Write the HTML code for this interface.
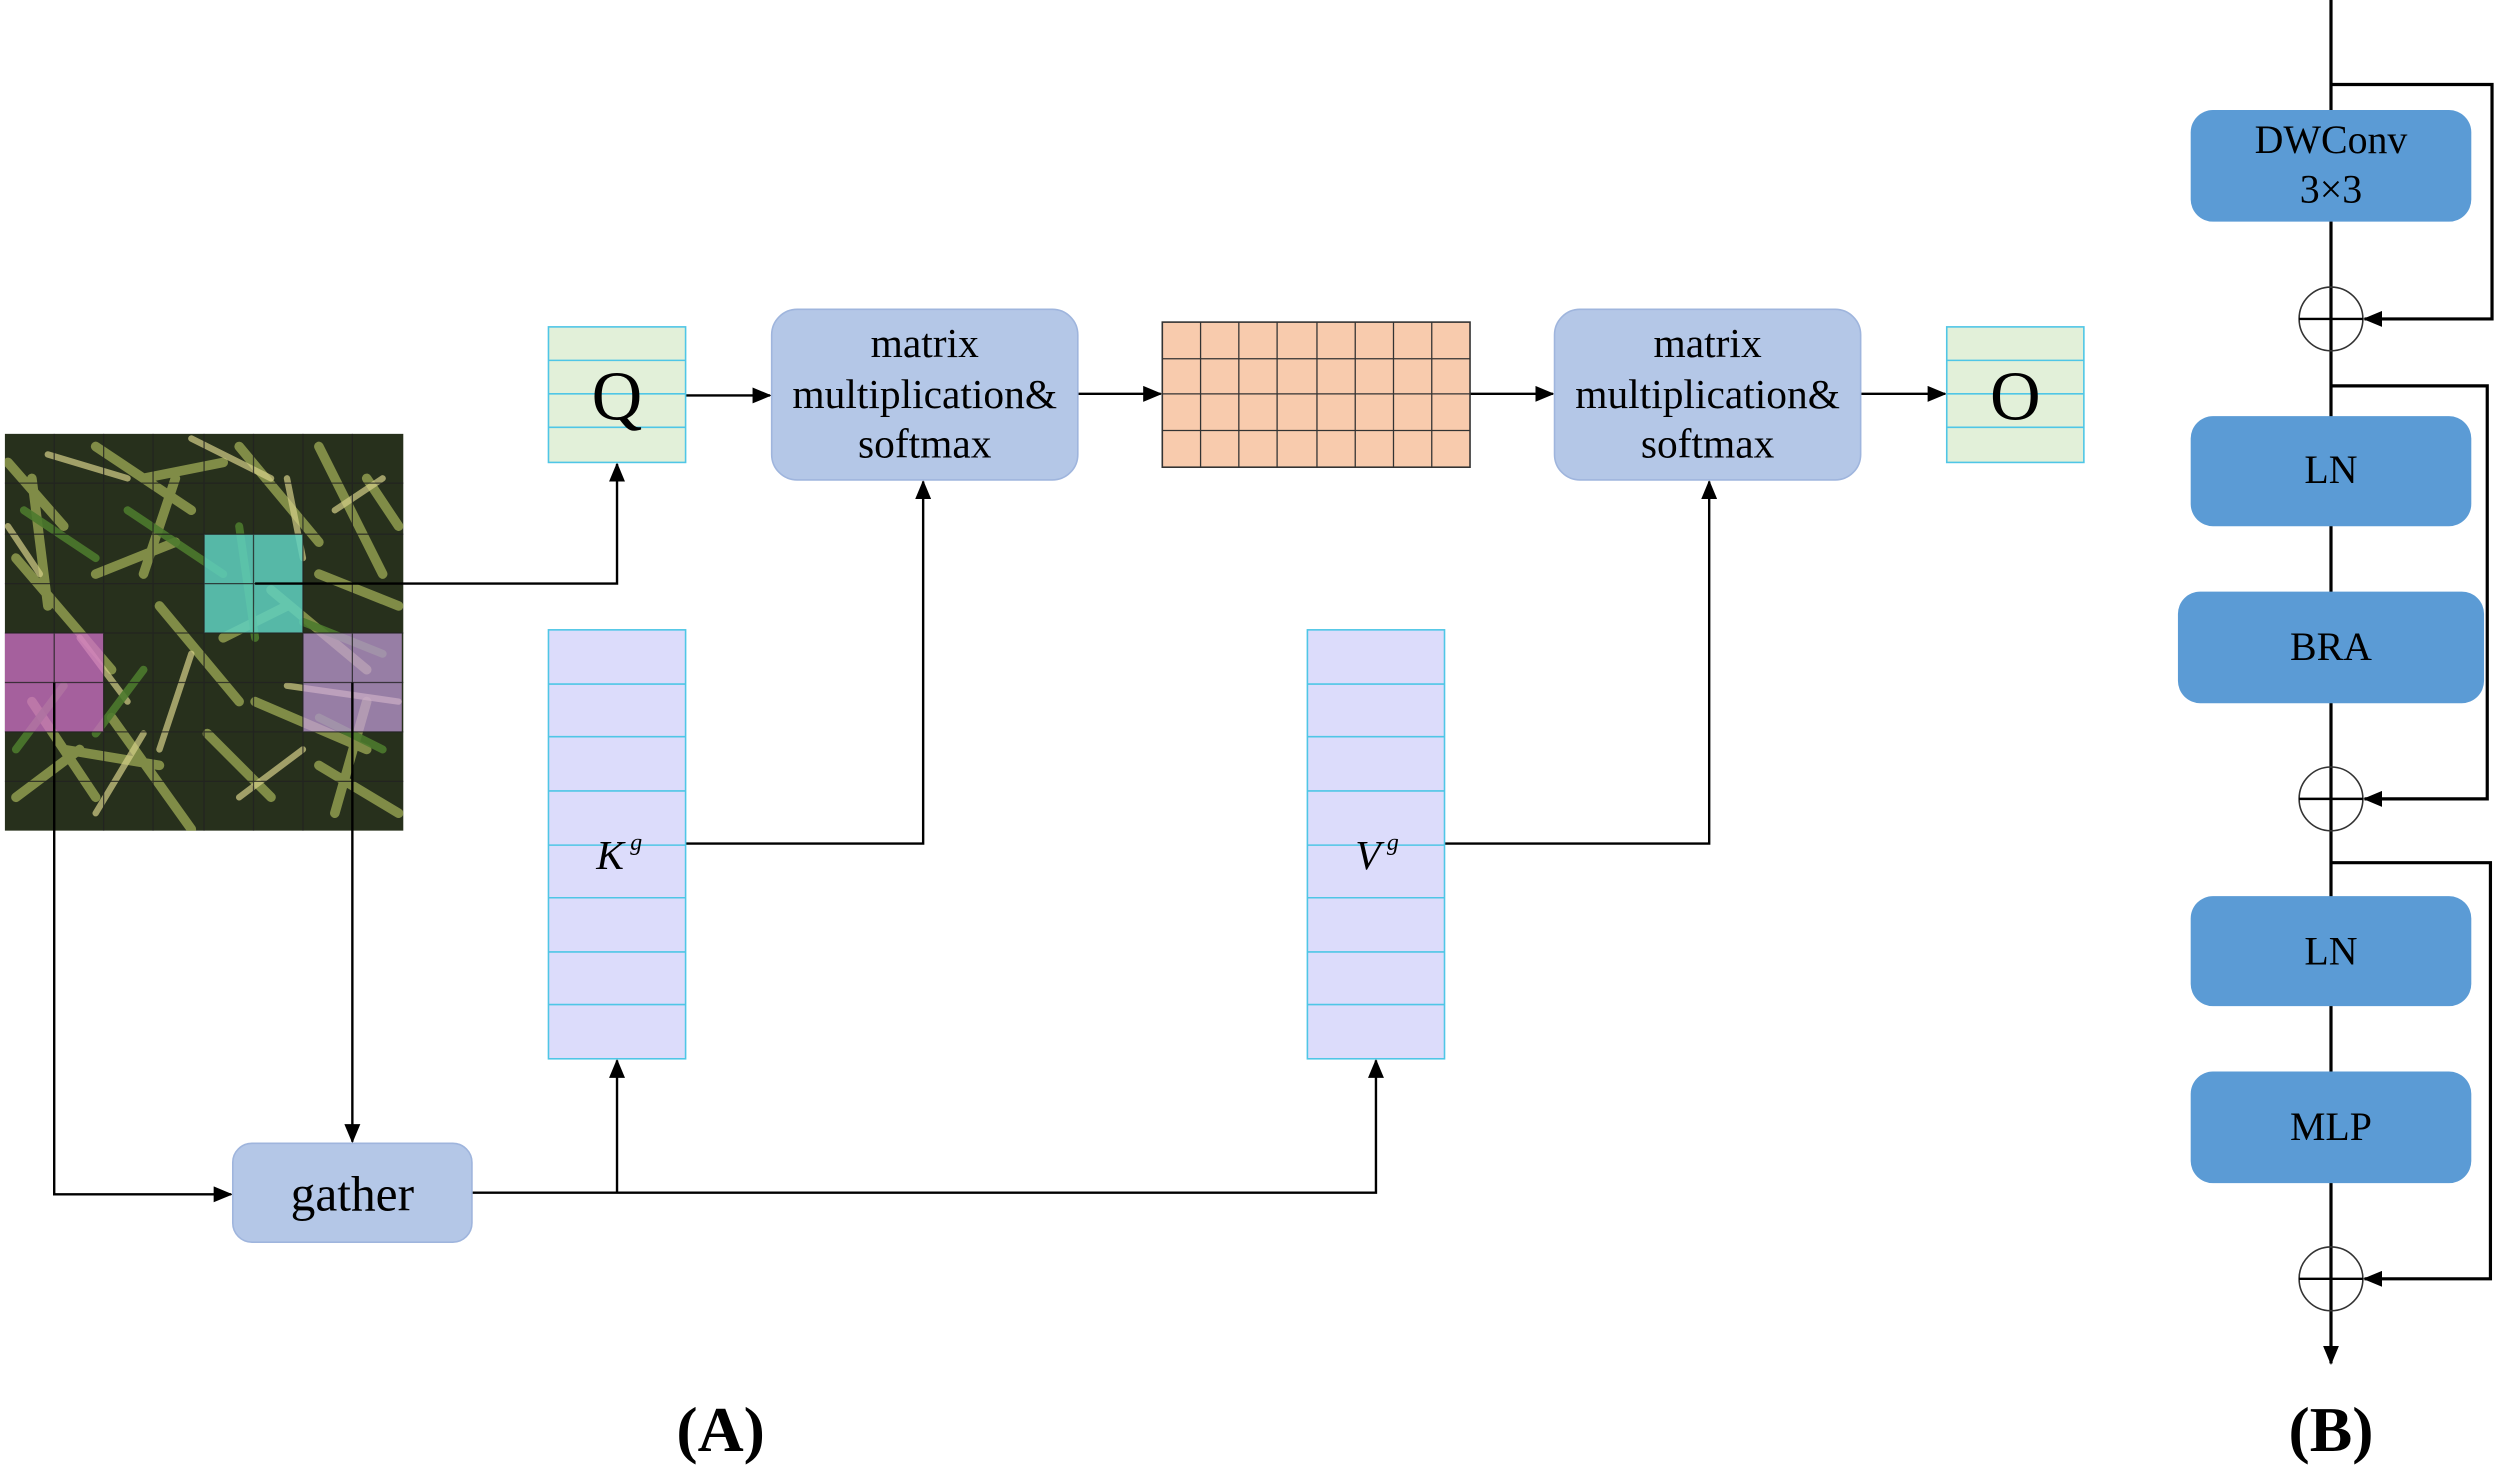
<!DOCTYPE html>
<html><head><meta charset="utf-8"><style>html,body{margin:0;padding:0;background:#fff}svg{display:block}</style></head>
<body>
<svg width="2500" height="1467" viewBox="0 0 1568 920" preserveAspectRatio="none" xmlns="http://www.w3.org/2000/svg" font-family="'Liberation Serif',serif">
<defs>
<marker id="a" markerWidth="12" markerHeight="10" refX="11" refY="5" orient="auto" markerUnits="userSpaceOnUse"><path d="M0,0 L12,5 L0,10 z" fill="#000"/></marker>
<clipPath id="ic"><rect x="3" y="272" width="250" height="249"/></clipPath>
</defs>
<g clip-path="url(#ic)">
<rect x="3" y="272" width="250" height="249" fill="#27301c"/>
<g stroke-linecap="round" fill="none">
<path d="M5,290 L40,330 M20,300 L30,380 M60,280 L120,320 M90,300 L140,290 M150,280 L200,340 M200,280 L240,360 M230,300 L250,330 M10,350 L70,420 M60,360 L110,340 M100,380 L150,440 M170,370 L230,420 M200,360 L250,380 M20,440 L60,500 M70,450 L120,520 M130,460 L170,500 M160,440 L230,470 M200,480 L250,510 M40,470 L100,480 M110,300 L90,360 M140,400 L180,380 M10,500 L50,470 M230,440 L210,510" stroke="#a7b45a" stroke-width="6" opacity="0.7"/>
<path d="M30,285 L80,300 M120,275 L170,300 M180,300 L190,350 M50,400 L80,440 M120,410 L100,470 M180,430 L250,440 M60,510 L90,460 M150,500 L190,470 M5,330 L25,360 M210,320 L240,300" stroke="#d6d089" stroke-width="4" opacity="0.7"/>
<path d="M15,320 L60,350 M80,320 L140,360 M150,330 L160,400 M10,470 L40,430 M90,420 L60,460 M190,390 L240,410 M240,470 L200,450" stroke="#4d7a2e" stroke-width="5" opacity="0.9"/>
</g>
<rect x="128" y="335" width="62" height="62" fill="#5fd0c0" opacity="0.85"/>
<rect x="3" y="397" width="62" height="62" fill="#d070c8" opacity="0.75"/>
<rect x="190" y="397" width="62" height="62" fill="#c8a0e0" opacity="0.7"/>
<g stroke="#222" stroke-width="0.8" opacity="0.8">
<path d="M34,272V521M65,272V521M96,272V521M128,272V521M159,272V521M190,272V521M221,272V521M3,303H253M3,335H253M3,366H253M3,397H253M3,428H253M3,459H253M3,490H253"/>
</g>
</g>
<g stroke="#000" stroke-width="1.5" fill="none">
<path d="M160,366 H387 V291" marker-end="url(#a)"/>
<path d="M430,248 H483" marker-end="url(#a)"/>
<path d="M676,247 H728" marker-end="url(#a)"/>
<path d="M922,247 H974" marker-end="url(#a)"/>
<path d="M1167,247 H1220" marker-end="url(#a)"/>
<path d="M430,529 H579 V302" marker-end="url(#a)"/>
<path d="M906,529 H1072 V302" marker-end="url(#a)"/>
<path d="M34,428 V749 H145" marker-end="url(#a)"/>
<path d="M221,428 V716" marker-end="url(#a)"/>
<path d="M296,748 H863 V665" marker-end="url(#a)"/>
<path d="M387,748 V665" marker-end="url(#a)"/>
</g>
<rect x="344" y="205" width="86" height="85" fill="#e2f0d9" stroke="#4fc6e6"/>
<path d="M344,226H430M344,247H430M344,268H430" stroke="#4fc6e6"/>
<text x="387" y="263" font-size="44" text-anchor="middle">Q</text>
<rect x="1221" y="205" width="86" height="85" fill="#e2f0d9" stroke="#4fc6e6"/>
<path d="M1221,226H1307M1221,247H1307M1221,268H1307" stroke="#4fc6e6"/>
<text x="1264" y="263" font-size="44" text-anchor="middle">O</text>
<g fill="#b4c7e7" stroke="#9fb5dd">
<rect x="484" y="194" width="192" height="107" rx="16"/>
<rect x="975" y="194" width="192" height="107" rx="16"/>
<rect x="146" y="717" width="150" height="62" rx="12"/>
</g>
<g font-size="26" text-anchor="middle">
<text x="580" y="224">matrix</text><text x="580" y="256">multiplication&amp;</text><text x="580" y="287">softmax</text>
<text x="1071" y="224">matrix</text><text x="1071" y="256">multiplication&amp;</text><text x="1071" y="287">softmax</text>
<text x="221" y="759" font-size="31">gather</text>
</g>
<rect x="729" y="202" width="193" height="91" fill="#f8cbad" stroke="#333"/>
<path d="M753,202V293M777,202V293M801,202V293M826,202V293M850,202V293M874,202V293M898,202V293M729,225H922M729,247H922M729,270H922" stroke="#333" stroke-width="0.8"/>
<g fill="#dcdcfb" stroke="#4fc6e6">
<rect x="344" y="395" width="86" height="269"/>
<rect x="820" y="395" width="86" height="269"/>
</g>
<path d="M344,429H430M344,462H430M344,496H430M344,530H430M344,563H430M344,597H430M344,630H430M820,429H906M820,462H906M820,496H906M820,530H906M820,563H906M820,597H906M820,630H906" stroke="#4fc6e6"/>
<text x="374" y="545" font-size="26" font-style="italic">K<tspan font-size="15" dy="-12" dx="4">g</tspan></text>
<text x="850" y="545" font-size="26" font-style="italic">V<tspan font-size="15" dy="-12" dx="4">g</tspan></text>
<text x="452" y="910" font-size="40" font-weight="bold" text-anchor="middle">(A)</text>
<text x="1462" y="910" font-size="40" font-weight="bold" text-anchor="middle">(B)</text>
<g stroke="#000" stroke-width="2" fill="none">
<path d="M1462,0 V855" marker-end="url(#a)"/>
<path d="M1462,53 H1563 V200 H1483" marker-end="url(#a)"/>
<path d="M1462,242 H1560 V501 H1483" marker-end="url(#a)"/>
<path d="M1462,541 H1562 V802 H1483" marker-end="url(#a)"/>
</g>
<g fill="none" stroke="#333" stroke-width="1">
<circle cx="1462" cy="200" r="20"/><circle cx="1462" cy="501" r="20"/><circle cx="1462" cy="802" r="20"/>
</g>
<path d="M1442,200H1482M1442,501H1482M1442,802H1482" stroke="#000" stroke-width="1.5"/>
<g fill="#5b9bd5">
<rect x="1374" y="69" width="176" height="70" rx="14"/>
<rect x="1374" y="261" width="176" height="69" rx="14"/>
<rect x="1366" y="371" width="192" height="70" rx="14"/>
<rect x="1374" y="562" width="176" height="69" rx="14"/>
<rect x="1374" y="672" width="176" height="70" rx="14"/>
</g>
<g font-size="25" text-anchor="middle">
<text x="1462" y="96">DWConv</text><text x="1462" y="127">3×3</text>
<text x="1462" y="303">LN</text>
<text x="1462" y="414">BRA</text>
<text x="1462" y="605">LN</text>
<text x="1462" y="715">MLP</text>
</g>
</svg>
</body></html>
